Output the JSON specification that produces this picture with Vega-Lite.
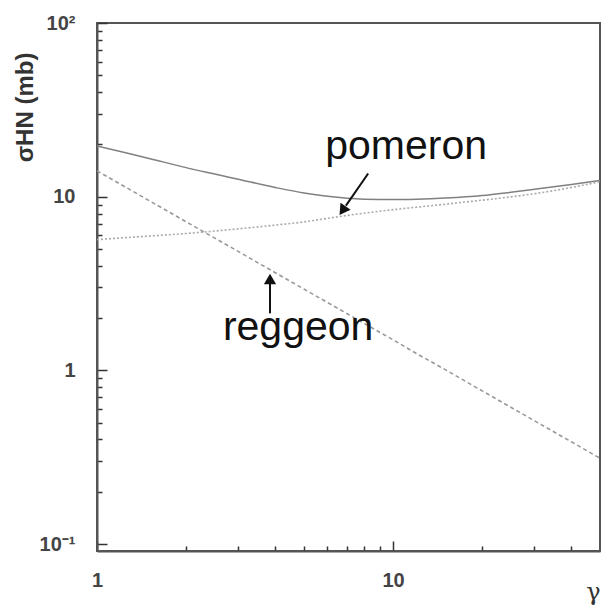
{
  "$schema": "https://vega.github.io/schema/vega-lite/v6.json",
  "width": 503,
  "height": 528,
  "autosize": {"type": "none"},
  "padding": {"left": 97, "top": 23, "right": 4, "bottom": 57},
  "background": "white",
  "config": {
    "view": {"stroke": "#555", "strokeWidth": 2},
    "font": "Liberation Sans"
  },
  "datasets": {
    "curves": [
      {"g": 1, "v": 19.6, "curve": "total"},
      {"g": 1.25, "v": 17.9, "curve": "total"},
      {"g": 1.5, "v": 16.6, "curve": "total"},
      {"g": 2, "v": 14.7, "curve": "total"},
      {"g": 2.5, "v": 13.5, "curve": "total"},
      {"g": 3, "v": 12.6, "curve": "total"},
      {"g": 4, "v": 11.3, "curve": "total"},
      {"g": 5, "v": 10.5, "curve": "total"},
      {"g": 6, "v": 10.05, "curve": "total"},
      {"g": 7, "v": 9.8, "curve": "total"},
      {"g": 8, "v": 9.68, "curve": "total"},
      {"g": 10, "v": 9.62, "curve": "total"},
      {"g": 12, "v": 9.67, "curve": "total"},
      {"g": 15, "v": 9.82, "curve": "total"},
      {"g": 20, "v": 10.15, "curve": "total"},
      {"g": 25, "v": 10.6, "curve": "total"},
      {"g": 30, "v": 11.02, "curve": "total"},
      {"g": 40, "v": 11.75, "curve": "total"},
      {"g": 50, "v": 12.4, "curve": "total"},
      {"g": 1, "v": 5.66, "curve": "pomeron"},
      {"g": 1.25, "v": 5.81, "curve": "pomeron"},
      {"g": 1.5, "v": 5.93, "curve": "pomeron"},
      {"g": 2, "v": 6.14, "curve": "pomeron"},
      {"g": 2.5, "v": 6.34, "curve": "pomeron"},
      {"g": 3, "v": 6.53, "curve": "pomeron"},
      {"g": 4, "v": 6.86, "curve": "pomeron"},
      {"g": 5, "v": 7.16, "curve": "pomeron"},
      {"g": 6, "v": 7.5, "curve": "pomeron"},
      {"g": 7, "v": 7.8, "curve": "pomeron"},
      {"g": 8, "v": 8.03, "curve": "pomeron"},
      {"g": 10, "v": 8.42, "curve": "pomeron"},
      {"g": 12, "v": 8.7, "curve": "pomeron"},
      {"g": 15, "v": 9.05, "curve": "pomeron"},
      {"g": 20, "v": 9.55, "curve": "pomeron"},
      {"g": 25, "v": 9.98, "curve": "pomeron"},
      {"g": 30, "v": 10.4, "curve": "pomeron"},
      {"g": 40, "v": 11.3, "curve": "pomeron"},
      {"g": 50, "v": 12.19, "curve": "pomeron"},
      {"g": 1, "v": 14.09, "curve": "reggeon"},
      {"g": 1.25, "v": 11.34, "curve": "reggeon"},
      {"g": 1.5, "v": 9.49, "curve": "reggeon"},
      {"g": 2, "v": 7.17, "curve": "reggeon"},
      {"g": 2.5, "v": 5.77, "curve": "reggeon"},
      {"g": 3, "v": 4.84, "curve": "reggeon"},
      {"g": 4, "v": 3.65, "curve": "reggeon"},
      {"g": 5, "v": 2.94, "curve": "reggeon"},
      {"g": 6, "v": 2.46, "curve": "reggeon"},
      {"g": 7, "v": 2.12, "curve": "reggeon"},
      {"g": 8, "v": 1.86, "curve": "reggeon"},
      {"g": 10, "v": 1.5, "curve": "reggeon"},
      {"g": 12, "v": 1.25, "curve": "reggeon"},
      {"g": 15, "v": 1.01, "curve": "reggeon"},
      {"g": 20, "v": 0.762, "curve": "reggeon"},
      {"g": 25, "v": 0.613, "curve": "reggeon"},
      {"g": 30, "v": 0.513, "curve": "reggeon"},
      {"g": 40, "v": 0.388, "curve": "reggeon"},
      {"g": 50, "v": 0.312, "curve": "reggeon"}
    ],
    "labels": [
      {"g": 11.07, "v": 16.5, "text": "pomeron"},
      {"g": 4.78, "v": 1.49, "text": "reggeon"}
    ],
    "arrows": [
      {"g": 8.24, "v": 13.6, "g2": 6.93, "v2": 8.88, "hg": 6.75, "hv": 8.31, "angle": 214.6},
      {"g": 3.84, "v": 2.13, "g2": 3.84, "v2": 3.16, "hg": 3.84, "hv": 3.36, "angle": 0}
    ]
  },
  "encoding": {
    "x": {
      "field": "g", "type": "quantitative",
      "scale": {"type": "log", "domain": [1, 50], "nice": false},
      "axis": {
        "title": "γ",
        "titleFont": "DejaVu Serif",
        "titleFontSize": 24,
        "titleFontWeight": "normal",
        "titleColor": "#333",
        "titleX": 496,
        "titleY": 41,
        "titleAlign": "center",
        "titleBaseline": "middle",
        "grid": false,
        "domain": true,
        "domainColor": "#555",
        "domainWidth": 2,
        "values": [1, 2, 3, 4, 5, 6, 7, 8, 9, 10, 20, 30, 40],
        "labelExpr": "datum.value == 1 ? '1' : (datum.value == 10 ? '10' : '')",
        "labelFontSize": 20,
        "labelFontWeight": "bold",
        "labelColor": "#444",
        "labelPadding": 29,
        "labelFlush": false,
        "labelOverlap": false,
        "tickColor": "#333",
        "tickWidth": 1.5,
        "tickSize": {"condition": {"test": "datum.value == 1 || datum.value == 10", "value": -10}, "value": -5}
      }
    },
    "y": {
      "field": "v", "type": "quantitative",
      "scale": {"type": "log", "domain": [0.0912, 100], "nice": false},
      "axis": {
        "title": "σHN (mb)",
        "titleFontSize": 24,
        "titleFontWeight": "bold",
        "titleColor": "#333",
        "titleX": -72,
        "titleY": 84,
        "titleAngle": 270,
        "titleAlign": "center",
        "titleBaseline": "middle",
        "grid": false,
        "domain": true,
        "domainColor": "#555",
        "domainWidth": 2,
        "values": [0.1, 0.2, 0.3, 0.4, 0.5, 0.6, 0.7, 0.8, 0.9, 1, 2, 3, 4, 5, 6, 7, 8, 9, 10, 20, 30, 40, 50, 60, 70, 80, 90, 100],
        "labelExpr": "datum.value == 100 ? '10²' : (datum.value == 10 ? '10' : (datum.value == 1 ? '1' : (datum.value == 0.1 ? '10⁻¹' : '')))",
        "labelFontSize": 20,
        "labelFontWeight": "bold",
        "labelColor": "#444",
        "labelPadding": 32,
        "labelFlush": false,
        "labelOverlap": false,
        "tickColor": "#333",
        "tickWidth": 1.5,
        "tickSize": {"condition": {"test": "datum.value == 1 || datum.value == 10 || datum.value == 100 || datum.value == 0.1", "value": -10}, "value": -5}
      }
    }
  },
  "layer": [
    {
      "data": {"name": "curves"},
      "transform": [{"filter": "datum.curve == 'total'"}],
      "mark": {"type": "line", "color": "#808080", "strokeWidth": 1.5, "interpolate": "monotone", "clip": true},
      "encoding": {}
    },
    {
      "data": {"name": "curves"},
      "transform": [{"filter": "datum.curve == 'pomeron'"}],
      "mark": {"type": "line", "color": "#aaa", "strokeWidth": 1.6, "strokeDash": [2, 2], "interpolate": "monotone", "clip": true},
      "encoding": {}
    },
    {
      "data": {"name": "curves"},
      "transform": [{"filter": "datum.curve == 'reggeon'"}],
      "mark": {"type": "line", "color": "#999", "strokeWidth": 1.6, "strokeDash": [4, 3], "clip": true},
      "encoding": {}
    },
    {
      "data": {"name": "labels"},
      "mark": {"type": "text", "font": "Liberation Sans", "fontSize": 41, "color": "#111", "baseline": "alphabetic", "align": "center"},
      "encoding": {"text": {"field": "text", "type": "nominal"}}
    },
    {
      "data": {"name": "arrows"},
      "mark": {"type": "rule", "color": "#111", "strokeWidth": 2},
      "encoding": {
        "x2": {"field": "g2"},
        "y2": {"field": "v2"}
      }
    },
    {
      "data": {"name": "arrows"},
      "mark": {"type": "point", "shape": "triangle-up", "filled": true, "color": "#111", "size": 150, "opacity": 1},
      "encoding": {
        "x": {"field": "hg", "type": "quantitative"},
        "y": {"field": "hv", "type": "quantitative"},
        "angle": {"field": "angle", "type": "quantitative", "scale": null}
      }
    }
  ]
}
